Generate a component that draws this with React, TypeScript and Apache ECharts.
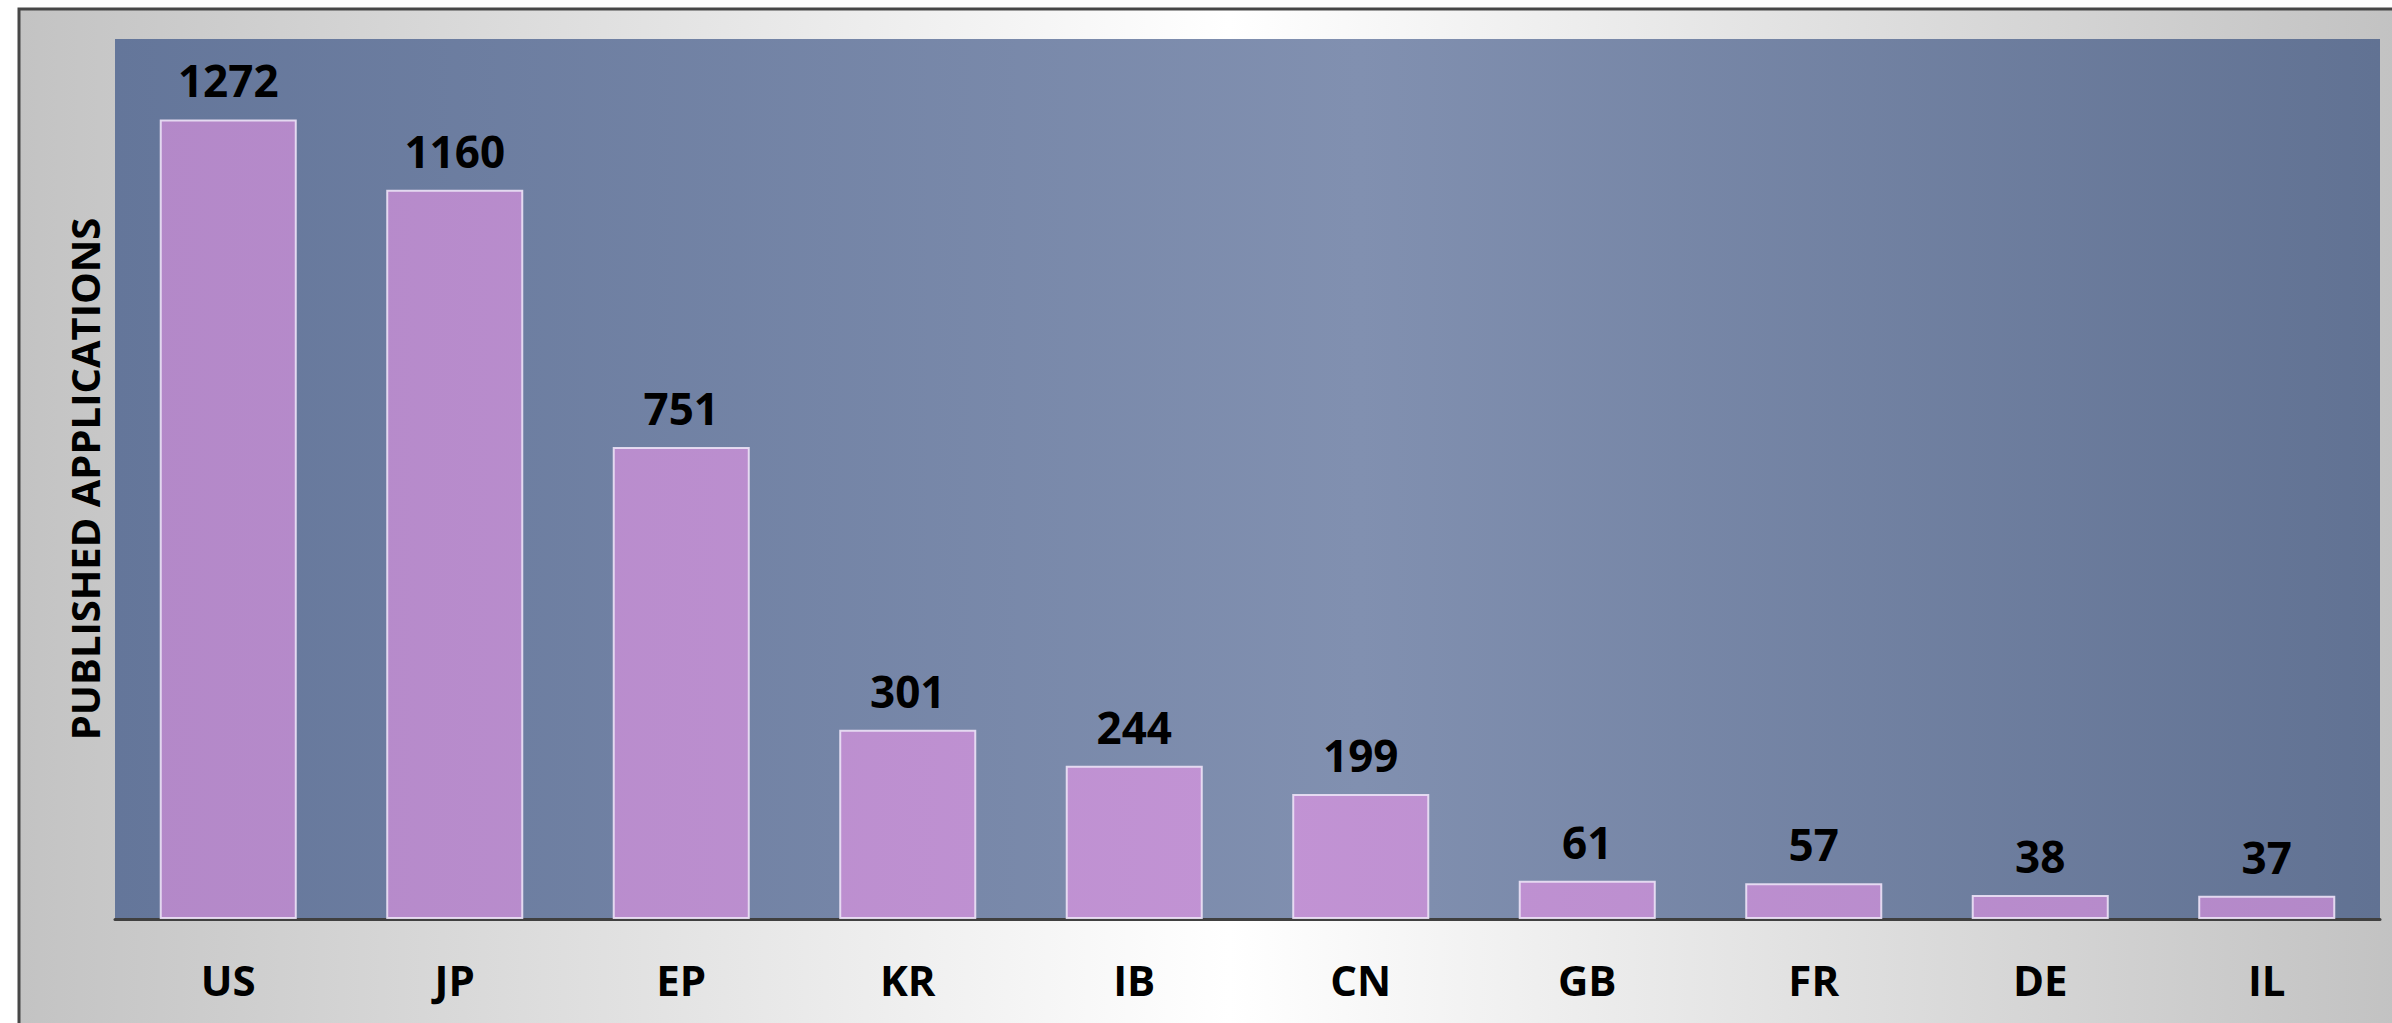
import React, { useEffect, useRef } from "react";
import * as echarts from "echarts";

const categories = ["US", "JP", "EP", "KR", "IB", "CN", "GB", "FR", "DE", "IL"];
const values = [1272, 1160, 751, 301, 244, 199, 61, 57, 38, 37];
const yAxisTitle = "PUBLISHED APPLICATIONS";
const yMax = 1400;

const FONT = "'Open Sans', 'Liberation Sans', Arial, sans-serif";

export default function App() {
  const ref = useRef<HTMLDivElement>(null);
  useEffect(() => {
    if (!ref.current) return;
    const chart = echarts.init(ref.current, null, { renderer: "svg" });
    const gridLeft = 115;
    const gridRight = 12;
    const W = 2392;
    chart.setOption({
      animation: false,
      backgroundColor: "#ffffff",
      graphic: [
        {
          type: "rect",
          z: -100,
          silent: true,
          shape: { x: 19, y: 9, width: 2420, height: 1060 },
          style: {
            fill: {
              type: "linear",
              x: 0, y: 0, x2: 1, y2: 0,
              colorStops: [
                { offset: 0, color: "#c3c3c3" },
                { offset: 0.5, color: "#ffffff" },
                { offset: 1, color: "#c0c0c0" },
              ],
            },
            stroke: "#474747",
            lineWidth: 3,
          },
        },
      ],
      grid: {
        left: gridLeft,
        right: gridRight,
        top: 39,
        bottom: 104,
        show: true,
        borderWidth: 0,
        backgroundColor: {
          type: "linear",
          x: 0, y: 0, x2: 1, y2: 0,
          colorStops: [
            { offset: 0, color: "#64769a" },
            { offset: 0.55, color: "#8190b0" },
            { offset: 1, color: "#617293" },
          ],
        },
      },
      xAxis: {
        type: "category",
        data: categories,
        axisLine: { show: true, lineStyle: { color: "#404040", width: 3 } },
        axisTick: { show: false },
        axisLabel: {
          interval: 0,
          color: "#000000",
          fontFamily: FONT,
          fontWeight: "bold",
          fontSize: 42,
          margin: 39,
        },
      },
      yAxis: {
        type: "value",
        min: 0,
        max: yMax,
        axisLine: { show: false },
        axisTick: { show: false },
        axisLabel: { show: false },
        splitLine: { show: false },
        name: yAxisTitle,
        nameLocation: "middle",
        nameRotate: 90,
        nameGap: 11,
        nameTextStyle: {
          color: "#000000",
          fontFamily: FONT,
          fontWeight: "bold",
          fontSize: 40,
        },
      },
      series: [
        {
          type: "bar",
          data: values,
          barWidth: "60.5%",
          itemStyle: {
            color: {
              type: "linear",
              global: true,
              x: gridLeft, y: 0, x2: W - gridRight, y2: 0,
              colorStops: [
                { offset: 0, color: "#b388c8" },
                { offset: 0.5, color: "#c293d4" },
                { offset: 1, color: "#b388c8" },
              ],
            },
            borderColor: "rgba(236,226,246,0.9)",
            borderWidth: 2,
          },
          label: {
            show: true,
            position: "top",
            distance: 17,
            color: "#000000",
            fontFamily: FONT,
            fontWeight: "bold",
            fontSize: 44,
          },
        },
      ],
    });
    return () => chart.dispose();
  }, []);
  return (
    <div
      ref={ref}
      style={{ position: "absolute", left: 0, top: 0, width: 2392, height: 1023 }}
    />
  );
}
